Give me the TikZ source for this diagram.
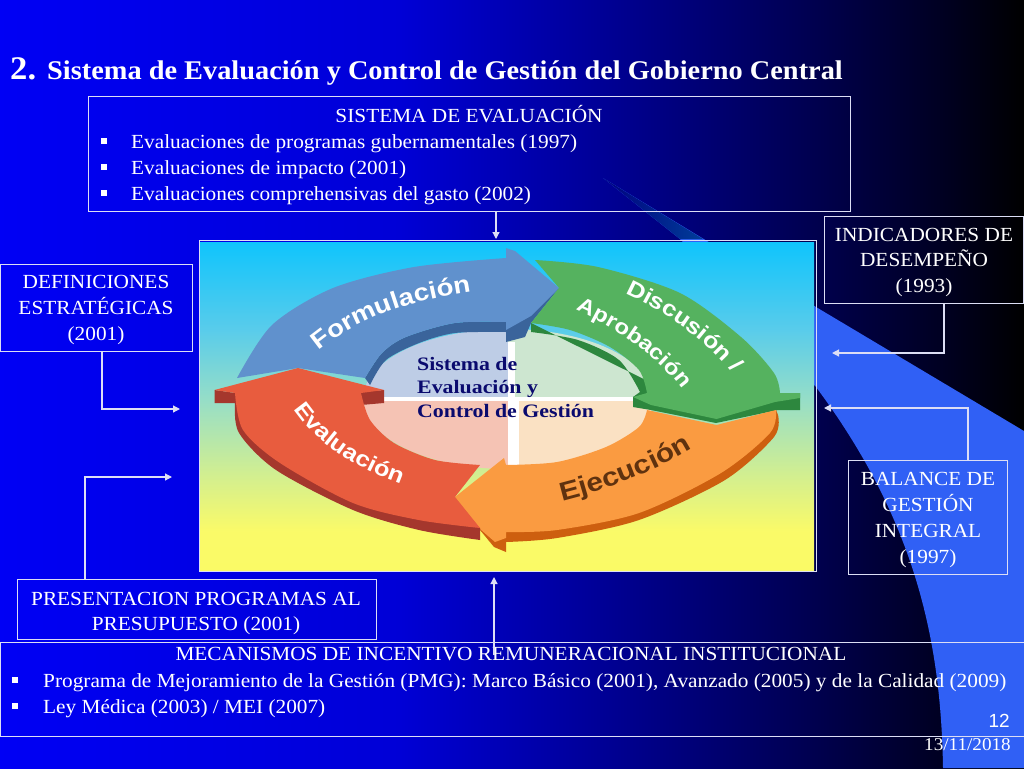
\documentclass[tikz,border=0pt]{standalone}
\usepackage{fontspec}
\setmainfont{Liberation Serif}
\newfontfamily\bodyf[FakeStretch=1.065]{Liberation Serif}
\newfontfamily\titlef[FakeStretch=1.05]{Liberation Serif}
\newfontfamily\centf[FakeStretch=1.15]{Liberation Serif}
\newfontfamily\ringf[FakeStretch=1.15]{Liberation Sans}
\newfontfamily\numf{Liberation Sans}
\usetikzlibrary{arrows.meta,decorations.text}
\definecolor{framec}{RGB}{220,222,245}
\definecolor{swoosh}{RGB}{48,96,245}
\definecolor{bluetop}{RGB}{96,145,205}
\definecolor{blueside}{RGB}{58,100,155}
\definecolor{greentop}{RGB}{85,178,95}
\definecolor{greenside}{RGB}{45,135,62}
\definecolor{orangetop}{RGB}{250,155,65}
\definecolor{orangeside}{RGB}{205,95,15}
\definecolor{redtop}{RGB}{232,92,62}
\definecolor{redside}{RGB}{165,55,45}
\definecolor{navyt}{RGB}{10,10,110}
\definecolor{brownt}{RGB}{95,50,15}
\definecolor{qblue}{RGB}{190,205,230}
\definecolor{qgreen}{RGB}{205,230,208}
\definecolor{qred}{RGB}{245,195,180}
\definecolor{qorange}{RGB}{250,225,195}
\pgfdeclarehorizontalshading{bgsh}{100bp}{rgb(0bp)=(0,0,.96); rgb(25bp)=(0,0,.96); rgb(44.5bp)=(0,0,.84); rgb(54.3bp)=(0,0,.59); rgb(64bp)=(0,0,.33); rgb(71.4bp)=(0,0,.12); rgb(75bp)=(0,0,0); rgb(100bp)=(0,0,0)}
\pgfdeclareverticalshading{imgsh}{100bp}{rgb(0bp)=(.98,.98,.4); rgb(25bp)=(.98,.98,.4); rgb(31bp)=(.98,.98,.41); rgb(38.7bp)=(.84,.94,.55); rgb(50.9bp)=(.59,.87,.78); rgb(61.6bp)=(.35,.80,.92); rgb(75bp)=(.06,.77,.99); rgb(100bp)=(.06,.77,.99)}
\tikzset{
  x=1pt,y=-1pt,
  box/.style={draw=framec,line width=1.2pt,minimum width=#1,inner sep=0pt},
  boxtext/.style={text=white,font=\bodyf\fontsize{20}{25.7}\selectfont,align=center,inner sep=0pt},
  linetext/.style={text=white,font=\bodyf\fontsize{20}{25.7}\selectfont,inner sep=0pt},
  conn/.style={draw=framec,line width=1.2pt,-{Triangle[length=7pt,width=7pt]}},
  ringlabel/.style={decorate},
}
\newcommand{\bsq}{\rule[4pt]{6pt}{6pt}}
\begin{document}
\begin{tikzpicture}
\useasboundingbox (0,0) rectangle (1024,768);
\shade[shading=bgsh] (0,0) rectangle (1024,768);
% swoosh
\fill[swoosh] (603,178) -- (816,307) -- (1024,431) -- (1024,768) -- (943,768)
  .. controls (941,640) and (915,520) .. (816,387) -- (680,239) -- cycle;
\shade[left color=black!10!blue!55!black,right color=blue!60!cyan!60!black] (603,178) -- (703,239) -- (680,239) -- cycle;
% picture
\node[draw=framec,line width=1.2pt,minimum width=617pt,minimum height=331pt,inner sep=0pt,anchor=north west] (img) at (199,240) {};
\shade[shading=imgsh] (200,242) rectangle (814,570);
% inner quadrants
\fill[qblue] (508,399) -- (363,399) arc[start angle=180,end angle=270,x radius=145,y radius=70] -- cycle;
\fill[qgreen] (508,399) -- (508,329) arc[start angle=270,end angle=360,x radius=145,y radius=70] -- cycle;
\fill[qred] (508,399) -- (363,399) arc[start angle=180,end angle=90,x radius=145,y radius=70] -- cycle;
\fill[qorange] (508,399) -- (653,399) arc[start angle=0,end angle=90,x radius=145,y radius=70] -- cycle;
\fill[white] (384,396.5) rectangle (633,401);
\fill[white] (508,342) rectangle (515,398);
\fill[white] (507.5,398) rectangle (518.5,468);
% blue arrow
\fill[blueside] plot[smooth] coordinates {(365,378) (382,353) (406,337) (455,323) (506,322)} -- (506,332) -- plot[smooth] coordinates {(506,332) (455,333) (419,343) (386,360) (370,385)} -- cycle;
\fill[blueside] (506,325) -- (506,342) -- (525,337) -- (531,323) -- (559,288) -- cycle;
\fill[bluetop] (237,378) -- plot[smooth] coordinates {(237,378) (272,325) (333,288) (414,267) (506,258)} -- (506,248) -- (515,251) -- (559,288) -- (531,316) -- (506,330) -- (506,322) -- plot[smooth] coordinates {(506,322) (455,323) (406,337) (382,353) (365,378)} -- (298,368) -- cycle;
% green arrow
\fill[greenside] (531,323) -- (531,332) -- plot[smooth] coordinates {(531,332) (578,340) (619,360) (640,392)} -- (633,397) -- (633,407) -- (651,410) -- (716,423) -- (778,410) -- (800,410) -- (800,393) -- (716,415) -- cycle;
\fill[greentop] (535,260) -- plot[smooth] coordinates {(535,260) (598,267) (680,293) (741,337) (774,373) (780,393)} -- (800,393) -- (800,398) -- (775,402) -- (716.5,419) -- (651,405) -- (633,397) -- (647,393) -- plot[smooth] coordinates {(647,393) (639,370) (610,347) (570,330) (531,323)} -- (559,288) -- cycle;
% orange arrow
\fill[orangeside] (776,410) -- plot[smooth] coordinates {(778,415) (774,437) (725,480) (639,520) (557,538) (506,542)} -- (506,552) -- (494,547) -- (480,530) -- (455,497) -- (490,520) -- (506,532) -- cycle;
\fill[orangetop] (647,410) -- (716.5,425) -- (776,410) -- plot[smooth] coordinates {(776,410) (770,433) (721,473) (639,513) (557,530) (506,532)} -- (506,538) -- (495,542) -- (480,529) -- (455,497) -- (504,458) -- (506,465) -- plot[smooth] coordinates {(506,465) (557,462) (606,447) (639,427) (647,410)} -- cycle;
% red arrow
\fill[redside] (214.5,390) -- (214.5,403) -- (235,403) -- plot[smooth] coordinates {(235,403) (239,433) (276,470) (353,510) (419,530) (480,540)} -- (480,528) -- (400,500) -- (235,393) -- cycle;
\fill[redside] (361,392) -- (361,405) -- (384,403) -- (384,390) -- cycle;
\fill[redtop] (298,368) -- (214.5,390) -- (235,393) -- plot[smooth] coordinates {(235,393) (243,430) (280,463) (353,503) (418.6,520) (480,528)} -- (455,497) -- (480,465) -- plot[smooth] coordinates {(480,465) (435,460) (394,443) (370,420) (361,393)} -- (384,390) -- cycle;
% ring labels
\path[ringlabel,decoration={text along path,text align=center,text={|\ringf\bfseries\fontsize{24}{24}\selectfont\color{white}|Formulación}}] (296,372) .. controls (352,312) and (420,298) .. (502,287);
\path[ringlabel,decoration={text along path,text align=center,text={|\ringf\bfseries\fontsize{22}{22}\selectfont\color{white}|Discusión /}}] (612,288) .. controls (672,313) and (717,348) .. (741,385);
\path[ringlabel,decoration={text along path,text align=center,text={|\ringf\bfseries\fontsize{21}{21}\selectfont\color{white}|Aprobación}}] (564,305) .. controls (624,330) and (669,365) .. (689,400);
\path[ringlabel,decoration={text along path,text align=center,text={|\ringf\bfseries\fontsize{22}{22}\selectfont\color{white}|Evaluación}}] (286,397) .. controls (311,442) and (356,470) .. (414,489);
\path[ringlabel,decoration={text along path,text align=center,text={|\ringf\bfseries\fontsize{26}{26}\selectfont\color{brownt}|Ejecución}}] (530,508) .. controls (600,495) and (670,468) .. (720,430);
\node[anchor=base west,inner sep=0pt,text=navyt,align=left,font=\centf\bfseries\fontsize{19}{23.5}\selectfont] (ctext) at (417,417) {Sistema de\\Evaluación y\\Control de Gestión};
% title
\node[anchor=base west,inner sep=0pt,text=white,font=\titlef\bfseries\fontsize{33}{33}\selectfont] (tnum) at (10,79) {2.};
\node[anchor=base west,inner sep=0pt,text=white,font=\titlef\bfseries\fontsize{27}{27}\selectfont] (ttitle) at (47,79) {Sistema de Evaluación y Control de Gestión del Gobierno Central};
% boxes
\node[box=762pt,minimum height=115pt,anchor=north west] (b1) at (88,96) {};
\node[linetext,anchor=base] (b1a) at (469,122) {SISTEMA DE EVALUACIÓN};
\node[linetext,anchor=base west] (b1b) at (101,148) {\bsq};
\node[linetext,anchor=base west] (b1c) at (131,148.5) {Evaluaciones de programas gubernamentales (1997)};
\node[linetext,anchor=base west] (b1d) at (101,174) {\bsq};
\node[linetext,anchor=base west] (b1e) at (131,174.5) {Evaluaciones de impacto (2001)};
\node[linetext,anchor=base west] (b1f) at (101,200) {\bsq};
\node[linetext,anchor=base west] (b1g) at (131,200.5) {Evaluaciones comprehensivas del gasto (2002)};
\node[box=199pt,minimum height=87pt,anchor=north west] (ind) at (824,216) {};
\node[boxtext] (indt) at (924,262.5) {INDICADORES DE\\DESEMPEÑO\\(1993)};
\node[box=192pt,minimum height=87pt,anchor=north west] (def) at (0,264) {};
\node[boxtext] (deft) at (96,310) {DEFINICIONES\\ESTRATÉGICAS\\(2001)};
\node[box=159pt,minimum height=114pt,anchor=north west] (bal) at (848,460) {};
\node[boxtext] (balt) at (928,520) {BALANCE DE\\GESTIÓN\\INTEGRAL\\(1997)};
\node[box=359pt,minimum height=60pt,anchor=north west] (pre) at (17,579) {};
\node[boxtext] (pret) at (196,613.5) {PRESENTACION PROGRAMAS AL\\PRESUPUESTO (2001)};
\node[box=1024pt,minimum height=94pt,anchor=north west] (mec) at (0,642) {};
\node[linetext,anchor=base] (meca) at (511,660.5) {MECANISMOS DE INCENTIVO REMUNERACIONAL INSTITUCIONAL};
\node[linetext,anchor=base west] (mecb) at (12,687) {\bsq};
\node[linetext,anchor=base west] (mecc) at (43,687) {Programa de Mejoramiento de la Gestión (PMG): Marco Básico (2001), Avanzado (2005) y de la Calidad (2009)};
\node[linetext,anchor=base west] (mecd) at (12,713) {\bsq};
\node[linetext,anchor=base west] (mece) at (43,713) {Ley Médica (2003) / MEI (2007)};
\node[anchor=base east,inner sep=0pt,text=white,font=\numf\fontsize{19}{19}\selectfont] (pg) at (1010,727) {12};
\node[anchor=base east,inner sep=0pt,text=white,font=\bodyf\fontsize{18}{18}\selectfont] (dt) at (1011,750) {13/11/2018};
% connectors
\coordinate (c1) at (496,239);
\coordinate (c2) at (832,353);
\coordinate (c3) at (180,409);
\coordinate (c4) at (824,408);
\coordinate (c5) at (172,477);
\coordinate (c6) at (494,577);
\coordinate (s6) at (494,655);
\draw[conn] (b1.south -| c1) -- (c1);
\draw[conn] (ind.south -| 944,0) -- (944,353) -- (c2);
\draw[conn] (def.south -| 102,0) -- (102,409) -- (c3);
\draw[conn] (bal.north -| 968,0) -- (968,408) -- (c4);
\draw[conn] (pre.north -| 85,0) -- (85,477) -- (c5);
\draw[conn] (s6) -- (c6);
\end{tikzpicture}
\end{document}
